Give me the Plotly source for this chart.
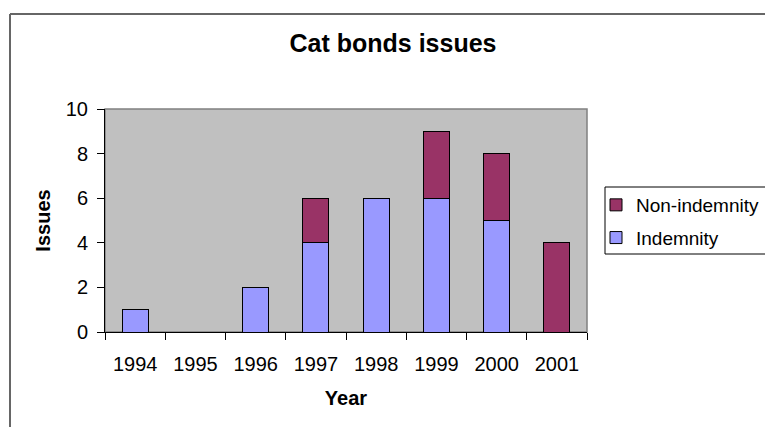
import plotly.graph_objects as go

years = ["1994", "1995", "1996", "1997", "1998", "1999", "2000", "2001"]
indemnity = [1, None, 2, 4, 6, 6, 5, None]
non_indemnity = [None, None, None, 2, None, 3, 3, 4]
y_ticks = [0, 2, 4, 6, 8, 10]

W, H = 765, 427
L, R, T, B = 105, 587, 109, 332  # plot area pixel box
pw, ph = R - L, B - T

def px(x):
    return (x - L) / pw

def py(y):
    return (B - y) / ph

FONT = "Liberation Sans, Arial, sans-serif"

fig = go.Figure()
fig.add_trace(go.Bar(x=years, y=indemnity, name="Indemnity",
                     marker=dict(color="#9999FF", line=dict(color="#000000", width=1)),
                     width=0.43, legendgroup="b", legendrank=2))
fig.add_trace(go.Bar(x=years, y=non_indemnity, name="Non-indemnity",
                     marker=dict(color="#993366", line=dict(color="#000000", width=1)),
                     width=0.43, legendgroup="a", legendrank=1))

fig.update_layout(
    width=W, height=H,
    margin=dict(l=L, r=W - R, t=T, b=H - B, autoexpand=False),
    barmode="stack",
    paper_bgcolor="white",
    plot_bgcolor="#C0C0C0",
    font=dict(family=FONT, size=20, color="black"),
    title=dict(text="<b>Cat bonds issues</b>", font=dict(size=25, family=FONT),
               x=393 / W, xref="container", xanchor="center",
               y=1 - 43 / H, yref="container", yanchor="middle"),
    legend=dict(traceorder="grouped", x=px(605), y=py(186), xanchor="left", yanchor="top",
                borderwidth=0, bgcolor="rgba(0,0,0,0)",
                font=dict(size=19, family=FONT), tracegroupgap=5, indentation=-9),
    xaxis=dict(type="category", showgrid=False, showline=True, linecolor="black", linewidth=1,
               ticks="outside", ticklen=7, tickcolor="black", tickson="boundaries",
               ticklabelstandoff=14,
               title=dict(text="<b>Year</b>", font=dict(size=20), standoff=16)),
    yaxis=dict(range=[0, 10], tickvals=y_ticks, showgrid=False, showline=True,
               linecolor="black", linewidth=1, ticks="outside", ticklen=7, tickcolor="black",
               ticklabelstandoff=5, zeroline=False,
               title=dict(text="<b>Issues</b>", font=dict(size=20), standoff=9)),
    showlegend=True,
)

# plot-area border (gray, top/right visible)
fig.add_shape(type="rect", xref="paper", yref="paper", x0=0, x1=1, y0=0, y1=1,
              line=dict(color="#808080", width=1.5), layer="below")
# chart outer frame (left and top edges; the rest runs off the page)
fig.add_shape(type="line", xref="paper", yref="paper",
              x0=px(10), x1=px(10), y0=py(600), y1=py(14),
              line=dict(color="#666666", width=2))
fig.add_shape(type="line", xref="paper", yref="paper",
              x0=px(10), x1=px(900), y0=py(14), y1=py(14),
              line=dict(color="#666666", width=2))
# legend box (runs off the right edge as in the reference)
fig.add_shape(type="rect", xref="paper", yref="paper",
              x0=px(605), x1=px(900), y0=py(254), y1=py(187),
              line=dict(color="black", width=1), fillcolor="white")

fig.write_html("out.html")
